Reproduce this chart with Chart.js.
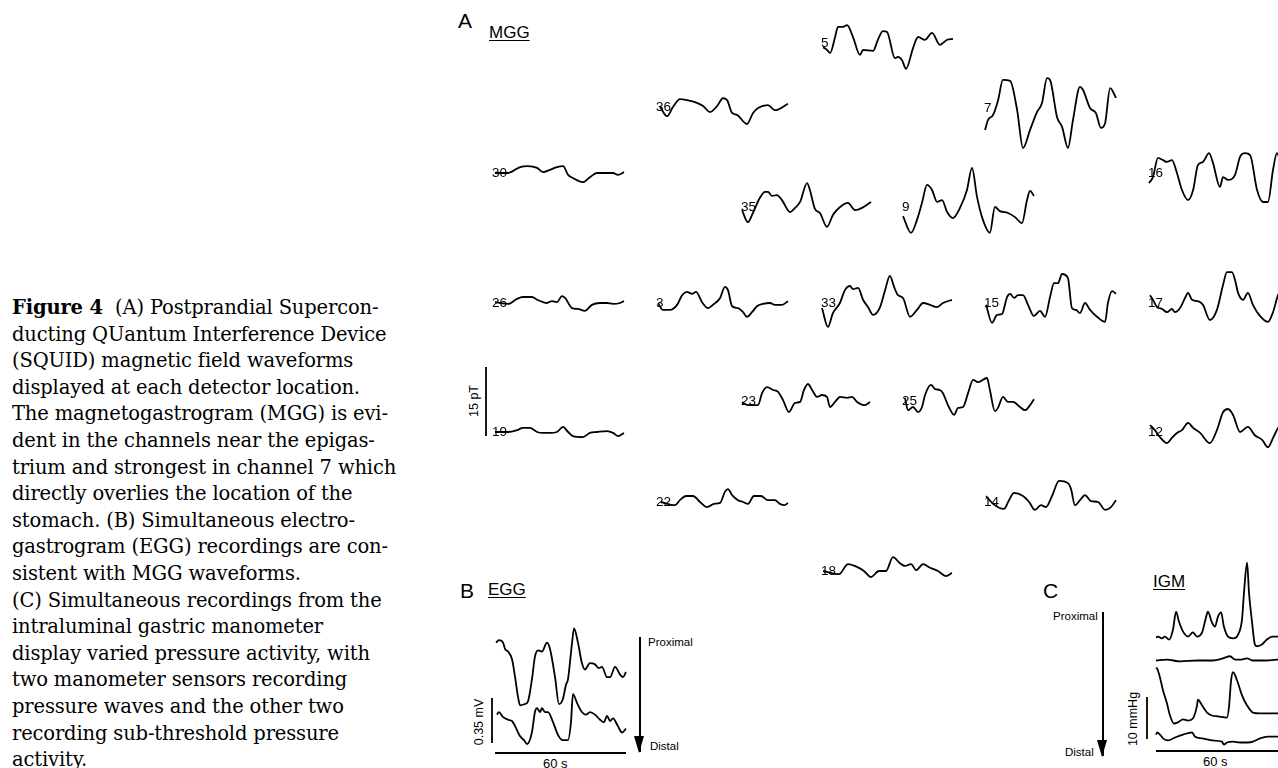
<!DOCTYPE html>
<html>
<head>
<meta charset="utf-8">
<script src="https://cdn.jsdelivr.net/npm/chart.js@4.4.1/dist/chart.umd.min.js"></script>
<style>
  body { margin: 0; background: #fff; }
  #fig { position: relative; width: 1278px; height: 768px; overflow: hidden; font-family: "Liberation Sans", Arial, sans-serif; color: #000; }
  .caption { position: absolute; left: 12px; top: 295px; font-family: "DejaVu Serif", "Liberation Serif", serif; font-size: 19.5px; line-height: 26.6px; white-space: nowrap; letter-spacing: -0.15px; }
  .t { position: absolute; white-space: nowrap; transform: translateY(-50%); }
  .rot { position: absolute; white-space: nowrap; transform: translate(-50%, -50%) rotate(-90deg); font-size: 12.5px; }
  .panel { font-size: 21px; }
  .ul { font-size: 17px; text-decoration: underline; text-underline-offset: 2px; }
  .small { font-size: 11.5px; }
  .arrow { position: absolute; width: 1.5px; background: #000; }
  .arrow::after { content: ""; position: absolute; left: -5px; bottom: -1px; border-left: 5.7px solid transparent; border-right: 5.7px solid transparent; border-top: 17px solid #000; }
</style>
</head>
<body>
<div id="fig">
  <div class="caption">
    <div><b>Figure 4</b>&nbsp; (A) Postprandial Supercon-</div>
    <div>ducting QUantum Interference Device</div>
    <div>(SQUID) magnetic field waveforms</div>
    <div>displayed at each detector location.</div>
    <div>The magnetogastrogram (MGG) is evi-</div>
    <div>dent in the channels near the epigas-</div>
    <div>trium and strongest in channel 7 which</div>
    <div>directly overlies the location of the</div>
    <div>stomach. (B) Simultaneous electro-</div>
    <div>gastrogram (EGG) recordings are con-</div>
    <div>sistent with MGG waveforms.</div>
    <div>(C) Simultaneous recordings from the</div>
    <div>intraluminal gastric manometer</div>
    <div>display varied pressure activity, with</div>
    <div>two manometer sensors recording</div>
    <div>pressure waves and the other two</div>
    <div>recording sub-threshold pressure</div>
    <div>activity.</div>
  </div>

  <div class="t panel" style="left:458px; top:21px;">A</div>
  <div class="t ul" style="left:489px; top:33px;">MGG</div>
  <div class="rot" style="left:474px; top:401px;">15 pT</div>

  <div class="t panel" style="left:460px; top:591px;">B</div>
  <div class="t ul" style="left:488px; top:590px;">EGG</div>
  <div class="rot" style="left:479px; top:722px;">0.35 mV</div>
  <div class="t" style="left:543px; top:763px; font-size:13px;">60 s</div>
  <div class="arrow" style="left:639px; top:637px; height:115px;"></div>
  <div class="t small" style="left:648px; top:642px;">Proximal</div>
  <div class="t small" style="left:650px; top:746px;">Distal</div>

  <div class="t panel" style="left:1043px; top:591px;">C</div>
  <div class="t ul" style="left:1153px; top:582px;">IGM</div>
  <div class="rot" style="left:1133px; top:719px;">10 mmHg</div>
  <div class="t" style="left:1203px; top:761px; font-size:13px;">60 s</div>
  <div class="arrow" style="left:1102px; top:612px; height:144px;"></div>
  <div class="t small" style="left:1053px; top:616px;">Proximal</div>
  <div class="t small" style="left:1065px; top:752px;">Distal</div>
</div>

<script>
// ---- MGG channels: [time (s), field (pT)] ----
const ch5  = [[0.5,-0.9],[2.3,-1.5],[3.7,-2.2],[6.0,1.3],[7.3,3.5],[9.6,3.5],[11.5,3.9],[14.2,1.3],[17.4,-2.6],[18.8,-1.5],[23.4,-1.7],[25.6,0.7],[27.9,2.6],[29.8,2.4],[33.4,-3.3],[34.8,-3.0],[36.6,-3.7],[38.5,-5.6],[41.7,-1.1],[44.0,1.3],[47.2,0.7],[50.4,2.2],[54.0,-0.4],[57.3,0.7],[60,0.9]];
const ch36 = [[1.4,0],[4.6,-2.0],[7.3,0],[10.5,1.7],[13.7,1.5],[18.3,0.9],[21.1,0.2],[24.3,-1.1],[27.5,0.2],[30.2,1.9],[32.1,1.5],[34.4,-1.3],[36.6,-1.7],[41.2,-3.7],[44.0,-1.3],[46.3,-0.2],[50.8,0.4],[54.0,-0.7],[60,0.7]];
const ch7  = [[0,-4.8],[1.4,-2.6],[3.7,-1.5],[6.0,1.7],[8.2,6.1],[11.5,5.9],[14.7,-0.4],[17.4,-8.7],[20.6,-4.8],[23.8,-0.9],[26.1,1.1],[28.4,6.5],[29.8,6.1],[33.0,-2.0],[35.3,-4.1],[38.0,-8.7],[40.3,-2.6],[43.5,4.6],[44.9,3.9],[48.1,0],[50.8,-1.1],[53.1,-4.3],[55.0,-3.3],[57.3,4.3],[60,2.2]];
const ch30 = [[0.9,0],[6.9,0],[12.4,1.3],[16,1.5],[20.2,1.1],[22.9,0.2],[26.1,0.7],[29.3,1.3],[32.1,1.5],[34.4,-0.4],[36.6,-1.1],[41.2,-2],[44.4,-0.9],[47.6,0],[52.2,0],[55,0],[57.3,-0.4],[60,0.2]];
const ch16 = [[0,-2.2],[1.8,-0.9],[4.1,3.3],[6.4,2.8],[8.2,2.4],[10.5,2.8],[12.8,0],[15.1,-3.7],[17.9,-5.9],[20.2,-3.7],[22.4,1.7],[24.7,2.4],[27.5,4.3],[29.3,2.2],[32.5,-3.0],[33.9,-0.9],[36.2,-1.5],[39.4,-0.4],[41.7,3.5],[44.0,4.3],[46.3,3.9],[49.5,-3.7],[52.2,-6.3],[54.5,-6.3],[56.8,0.7],[58.6,4.3],[60,2.8]];
const ch35 = [[0,-0.7],[2.7,-3.3],[5.0,-1.3],[8.2,2.0],[10.5,3.3],[11.9,3.3],[13.7,2.4],[16.0,2.6],[18.3,1.5],[22.0,-1.1],[24.3,-0.2],[26.6,1.1],[29.8,5.2],[31.1,3.7],[33.4,-0.4],[35.7,-1.3],[38.9,-4.3],[41.7,-1.7],[44.9,0],[48.5,0.9],[51.8,-0.7],[55.0,-0.2],[59.1,1.1]];
const ch9  = [[0,-2.0],[3.7,-5.6],[6.4,-2.8],[8.7,0.9],[11.0,4.8],[13.3,3.7],[15.6,1.1],[17.9,1.5],[20.2,-1.1],[22.9,-2.4],[26.1,-0.2],[29.3,3.7],[31.6,8.5],[33.9,2.2],[36.6,-2.8],[39.8,-5.6],[42.1,0],[44.4,-0.9],[48.1,-1.3],[51.3,-2.2],[54.5,-3.5],[56.8,1.5],[58.2,3.5],[60,2.4]];
const ch26 = [[0.9,0.2],[6.9,-0.2],[11.0,0.9],[13.7,1.3],[17.9,1.3],[20.2,0.7],[22.9,0.2],[24.7,0],[27.0,0.4],[29.3,0.2],[31.6,1.5],[33.0,1.1],[36.2,-1.1],[38.9,-1.3],[42.1,-1.7],[45.3,-0.4],[49.0,0],[52.2,0],[55.0,-0.2],[58.2,0],[60,0.4]];
const ch3  = [[0.5,0],[2.7,-1.5],[6.0,-1.5],[9.2,-0.4],[11.5,1.7],[13.7,2.4],[16.0,2.0],[17.9,2.4],[20.6,0.2],[23.4,-1.1],[25.6,-0.4],[28.9,1.1],[31.1,3.5],[32.5,2.8],[34.4,-0.7],[37.1,-1.1],[39.4,-2.0],[41.2,-3.0],[43.5,-2.0],[45.8,-0.7],[48.5,-0.2],[51.8,0],[54.0,-0.4],[57.3,-0.4],[60,0.4]];
const ch33 = [[0,-1.1],[2.7,-5.2],[5.0,-2.2],[8.2,0],[10.5,2.8],[12.8,3.7],[14.2,3.0],[16.5,3.3],[18.8,0.7],[21.1,-0.9],[23.4,-2.6],[26.6,-0.9],[28.9,2.8],[31.1,5.9],[33.0,3.5],[34.8,1.7],[37.1,1.1],[40.3,-3.0],[43.5,-1.5],[46.3,0],[49.5,-0.4],[52.7,-0.9],[55.4,0],[59.5,0.7]];
const ch15 = [[0.5,-0.4],[3.2,-4.3],[5.5,-2.6],[7.8,-2.4],[10.1,1.3],[11.5,2.0],[13.3,1.1],[15.1,1.7],[17.4,1.7],[19.7,-0.4],[22.4,-2.8],[25.2,-1.7],[27.5,-3.0],[29.8,1.3],[31.6,4.3],[33.4,4.3],[35.3,6.3],[38.0,5.4],[39.8,-1.1],[41.7,-1.5],[43.5,-2.2],[45.8,0],[48.1,-1.5],[51.3,-3.0],[55.0,-4.1],[56.3,0],[58.2,2.6],[60,2.0]];
const ch17 = [[0.5,1.7],[1.8,0.7],[3.7,-0.9],[6.0,-1.3],[8.2,-2.0],[10.5,-1.3],[11.9,-2.0],[14.2,-1.1],[16.5,1.1],[17.9,2.2],[19.7,0.7],[22.4,0.4],[24.7,-0.4],[27.9,-3.7],[31.1,-1.5],[33.9,3.9],[35.7,6.7],[38.0,6.7],[39.4,5.0],[40.8,2.2],[43.1,0.7],[45.3,2.2],[47.6,-0.4],[50.8,-2.8],[54.5,-4.1],[56.8,-2.0],[59.1,1.7],[60,2.4]];
const ch23 = [[0,-0.2],[2.7,-0.9],[7.3,-0.9],[9.2,1.7],[11.5,3.0],[14.2,2.4],[16.5,2.0],[18.8,0.2],[21.5,-2.4],[24.3,-0.4],[26.6,-0.2],[28.4,2.4],[30.2,3.7],[32.1,2.4],[34.4,0.9],[36.6,1.3],[38.9,0.9],[40.3,-1.3],[42.6,-0.2],[44.9,0.9],[48.1,0.7],[50.4,0.9],[52.7,-0.2],[56.3,-0.9],[58.6,-0.2]];
const ch25 = [[0.9,0.7],[2.3,-2.0],[4.6,-1.3],[6.9,-2.4],[8.7,-1.3],[10.1,1.3],[12.8,3.5],[14.7,2.6],[16.9,2.4],[18.3,1.7],[20.6,-0.9],[23.4,-3.0],[25.2,-1.5],[27.5,-1.3],[29.8,1.7],[32.1,4.6],[34.4,4.1],[38.5,5.0],[39.8,2.4],[42.1,-2.2],[43.5,-1.5],[45.8,0.9],[48.1,-0.2],[50.4,-0.2],[53.6,-1.3],[55.9,-2.0],[58.2,-0.9],[60,0.4]];
const ch19 = [[0.9,0],[6.9,0],[11.0,0.4],[13.7,0.9],[16.9,0.9],[20.2,0],[22.9,-0.2],[26.1,-0.2],[29.3,0],[32.1,1.1],[34.4,0],[36.6,-0.9],[41.2,-1.1],[44.4,-0.2],[47.6,0],[52.2,0.2],[55.0,-0.2],[57.3,-0.9],[60,-0.2]];
const ch12 = [[0.5,1.5],[2.7,0.4],[5.0,-1.1],[8.2,-2.4],[10.5,-1.3],[12.8,-0.2],[15.1,0.4],[17.9,2.0],[20.2,0.9],[23.4,-0.2],[27.9,-2.4],[31.1,0.4],[33.9,4.3],[36.2,5.0],[38.5,3.7],[41.7,0],[45.3,1.1],[48.5,-0.7],[51.8,-1.7],[54.5,-3.3],[56.8,-1.3],[59.1,0.9],[60,1.5]];
const ch22 = [[1.8,0],[8.2,-0.7],[10.5,0.4],[13.3,1.3],[16.5,1.3],[19.7,0],[22.9,-1.1],[26.1,-0.4],[28.9,-0.2],[31.1,2.2],[32.5,2.8],[34.4,1.5],[37.1,0.4],[39.4,0],[41.7,-0.4],[44.4,1.3],[47.6,1.3],[50.8,0.4],[54.0,0.4],[56.3,-0.4],[58.2,-0.7],[60,-0.2]];
const ch14 = [[0.5,1.3],[3.7,-0.4],[8.7,-1.5],[11.0,0.4],[13.3,2.0],[17.4,1.3],[20.2,0],[22.9,-1.7],[25.6,-0.7],[27.9,-1.1],[30.7,1.3],[33.9,4.6],[38.0,4.1],[39.4,2.8],[41.2,-0.7],[43.5,0.4],[45.8,1.5],[48.5,0.2],[51.8,0],[55.0,-1.7],[57.7,-1.1],[60,0.4]];
const ch18 = [[0.5,0],[7.8,-0.7],[11.9,1.5],[16.0,0.9],[19.2,0],[22.4,-1.3],[26.1,0],[29.3,0],[32.5,3.0],[35.7,1.7],[38.0,1.1],[40.8,1.5],[43.1,0.2],[46.3,1.5],[49.5,0.7],[53.1,0],[56.8,-1.1],[59.5,-0.4]];

// ---- EGG: [time (s), potential (mV)] ----
const eggProximal = [[0.5,0],[1.8,0.02],[3.7,0],[4.6,-0.05],[6.0,-0.07],[7.8,-0.13],[9.2,-0.27],[10.5,-0.42],[11.5,-0.49],[13.7,-0.48],[15.1,-0.46],[16.9,-0.29],[18.3,-0.11],[19.7,-0.06],[21.5,-0.07],[23.8,0],[25.2,-0.05],[27.5,-0.27],[29.3,-0.48],[31.1,-0.44],[32.5,-0.33],[33.4,-0.29],[35.3,0],[36.2,0.11],[38.0,0],[39.8,-0.16],[41.2,-0.21],[43.5,-0.16],[45.8,-0.17],[47.6,-0.20],[49.0,-0.19],[51.3,-0.27],[52.7,-0.27],[55.0,-0.19],[57.3,-0.25],[58.6,-0.27],[60,-0.23]];
const eggDistal = [[0.9,0],[1.8,0.02],[3.7,-0.02],[6.0,-0.04],[7.8,-0.05],[9.2,-0.09],[11.5,-0.17],[13.3,-0.2],[14.7,-0.23],[16.9,-0.14],[18.3,0.02],[19.2,0.05],[20.6,0.02],[21.5,0.05],[22.9,0.02],[24.3,0.02],[26.6,-0.06],[28.9,-0.16],[31.1,-0.2],[33.4,-0.2],[34.8,-0.06],[35.7,0.16],[37.6,0.09],[39.8,0.02],[41.7,0],[43.5,0.02],[45.8,0],[48.1,-0.04],[49.9,-0.06],[51.3,-0.01],[52.7,-0.05],[54.0,-0.03],[56.3,-0.09],[58.2,-0.14],[60,-0.11]];

// ---- IGM: [time (s), pressure (mmHg)], proximal to distal ----
const igm1 = [[0,0],[0.9,0.2],[2.7,-0.2],[4.1,0.2],[6.0,-0.5],[7.8,1.9],[9.2,6.2],[10.5,3.8],[12.4,1.4],[14.7,0.2],[16.9,1.2],[18.8,0.2],[21.1,1.2],[22.9,4.8],[23.8,6.2],[25.6,3.6],[27.0,2.6],[28.4,5.0],[29.8,6.0],[31.1,2.6],[33.0,0.2],[35.3,-0.2],[37.6,0.7],[39.4,4.3],[40.3,10.7],[41.7,17.9],[42.6,10.7],[44.0,3.6],[45.3,-1.7],[46.3,-2.1],[48.5,-1.7],[50.8,-0.5],[53.1,0.2],[55.4,0.2],[60,0.2]];
const igm2 = [[0,0],[5.0,0.2],[11.0,-0.2],[18.8,0],[26.1,0],[30.7,0.5],[33.9,1.0],[36.2,0.2],[38.5,0.2],[41.7,0.5],[44.4,0],[50.8,0],[55.4,0.2],[60,0]];
const igm3 = [[0,10.9],[0.5,10.7],[1.8,8.6],[3.2,5.5],[5.0,2.4],[6.4,-0.5],[8.2,-2.4],[10.1,-2.1],[12.4,-1.4],[14.7,-1.7],[16.9,-1.2],[18.8,1.9],[19.2,3.3],[21.1,1.9],[23.4,0.2],[25.6,-0.5],[28.4,-0.7],[32.5,-1.0],[33.4,1.4],[34.4,7.9],[35.3,9.8],[37.1,7.9],[39.4,4.3],[41.7,1.9],[44.4,0.2],[47.6,0],[55.4,0],[60,0]];
const igm4 = [[0,0.7],[0.5,1.2],[1.8,0.7],[3.2,-0.2],[5.5,-0.7],[8.7,0],[12.4,0.7],[16.5,1.2],[17.9,0.2],[21.1,-0.2],[25.6,-0.7],[30.2,-1.0],[31.1,-1.7],[32.5,-1.2],[35.3,-1.0],[38.5,-1.2],[42.1,-1.2],[44.4,-1.0],[47.6,-0.2],[51.3,0.2],[55.4,0.2],[60,0.2]];

// calibration bars
const fieldBar = 15;     // pT
const eggBar = 0.35;     // mV
const pressureBar = 10;  // mmHg
const timeBar = 60;      // s

// ---- layout (page pixels) ----
const PX_PER_S = 131 / 60;
const PX_PER_PT = 4.6;
const PX_PER_MV = 45 / 0.35;
const PX_PER_MMHG = 4.2;
const PAD = 4;
const LINE_W = 1.8;

const mggPlaces = [
  ['5', ch5, 822, 43], ['36', ch36, 657, 107], ['7', ch7, 985, 108],
  ['30', ch30, 493, 173], ['16', ch16, 1149, 173],
  ['35', ch35, 742, 207], ['9', ch9, 903, 207],
  ['26', ch26, 493, 303], ['3', ch3, 657, 303], ['33', ch33, 822, 303], ['15', ch15, 985, 303], ['17', ch17, 1149, 303],
  ['23', ch23, 742, 401], ['25', ch25, 903, 401],
  ['19', ch19, 493, 432], ['12', ch12, 1149, 432],
  ['22', ch22, 657, 502], ['14', ch14, 985, 502],
  ['18', ch18, 822, 571]
];

const channelLabel = {
  id: 'channelLabel',
  afterDatasetsDraw(chart, args, opts) {
    if (!opts.text) return;
    const { ctx, scales } = chart;
    ctx.save();
    ctx.font = '13.5px "Liberation Sans", Arial, sans-serif';
    ctx.fillStyle = '#000';
    ctx.textBaseline = 'middle';
    ctx.fillText(opts.text, scales.x.getPixelForValue(0) - 1, scales.y.getPixelForValue(0) + 0.5);
    ctx.restore();
  }
};

// one small chart per trace; x0/y0 = page pixel where t=0 and value=0 fall
function plot(x0, y0, sx, sy, xr, yr, points, text) {
  const cv = document.createElement('canvas');
  const w = Math.round((xr[1] - xr[0]) * sx) + 2 * PAD;
  const h = Math.round((yr[1] - yr[0]) * sy) + 2 * PAD;
  cv.width = w;
  cv.height = h;
  cv.style.cssText = `position:absolute;left:${x0 + xr[0] * sx - PAD}px;top:${y0 - yr[1] * sy - PAD}px;width:${w}px;height:${h}px`;
  document.getElementById('fig').appendChild(cv);
  return new Chart(cv, {
    type: 'line',
    data: {
      datasets: [{
        data: points.map(([x, y]) => ({ x, y })),
        borderColor: '#000',
        borderWidth: LINE_W,
        pointRadius: 0,
        cubicInterpolationMode: 'monotone',
        borderJoinStyle: 'round',
        fill: false,
        clip: false
      }]
    },
    options: {
      responsive: false,
      animation: false,
      devicePixelRatio: 1,
      events: [],
      layout: { padding: PAD },
      plugins: { legend: { display: false }, tooltip: { enabled: false }, channelLabel: { text } },
      scales: {
        x: { type: 'linear', display: false, min: xr[0], max: xr[1] },
        y: { type: 'linear', display: false, min: yr[0], max: yr[1] }
      }
    },
    plugins: [channelLabel]
  });
}

// A: MGG
mggPlaces.forEach(([name, data, x, y]) => {
  plot(x, y, PX_PER_S, PX_PER_PT, [0, 60], [-10, 10], data, name);
});
plot(486, 436, 1, PX_PER_PT, [-1, 1], [0, fieldBar], [[0, 0], [0, fieldBar]]);

// B: EGG
plot(495, 643, PX_PER_S, PX_PER_MV, [0, 60], [-0.55, 0.2], eggProximal);
plot(495, 715, PX_PER_S, PX_PER_MV, [0, 60], [-0.3, 0.2], eggDistal);
plot(492, 743, 1, PX_PER_MV, [-1, 1], [0, eggBar], [[0, 0], [0, eggBar]]);
plot(495, 753, PX_PER_S, 1, [0, 60], [-1, 1], [[0, 0], [timeBar, 0]]);

// C: IGM
plot(1156, 638, PX_PER_S, PX_PER_MMHG, [0, 60], [-3, 19], igm1);
plot(1156, 660, PX_PER_S, PX_PER_MMHG, [0, 60], [-2, 2], igm2);
plot(1156, 713, PX_PER_S, PX_PER_MMHG, [0, 60], [-3, 12], igm3);
plot(1156, 738, PX_PER_S, PX_PER_MMHG, [0, 60], [-3, 3], igm4);
plot(1147, 739, 1, PX_PER_MMHG, [-1, 1], [0, pressureBar], [[0, 0], [0, pressureBar]]);
plot(1156, 751, PX_PER_S, 1, [0, 60], [-1, 1], [[0, 0], [timeBar, 0]]);
</script>
</body>
</html>
